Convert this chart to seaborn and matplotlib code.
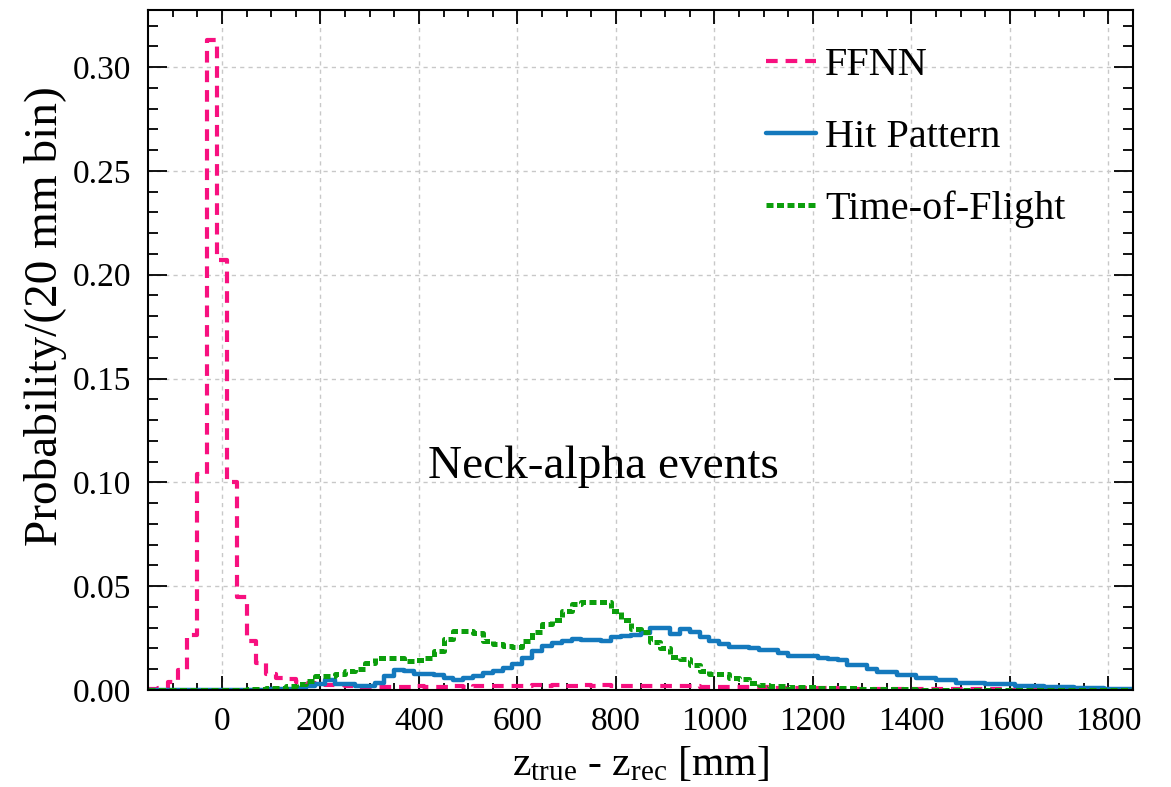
import numpy as np
import pandas as pd
import seaborn as sns
import matplotlib.pyplot as plt
from matplotlib.lines import Line2D
from matplotlib.ticker import MultipleLocator, FormatStrFormatter

# bins of 20 mm, centres from -140 to 1840 mm
bin_centers = np.arange(-140, 1841, 20)

ffnn = [
    0.0007, 0.0008, 0.004, 0.0097, 0.0266, 0.104, 0.313, 0.207, 0.100, 0.045,
    0.0236, 0.0132, 0.0079, 0.0058, 0.0055, 0.004, 0.0035, 0.003, 0.0025, 0.0022,
    0.002, 0.0016, 0.0015, 0.0016, 0.0015, 0.0016, 0.0015, 0.0017, 0.0016, 0.0015,
    0.0016, 0.0017, 0.0016, 0.0018, 0.0017, 0.002, 0.0019, 0.0021, 0.002, 0.0022,
    0.002, 0.0022, 0.0021, 0.002, 0.0022, 0.0021, 0.0022, 0.002, 0.0021, 0.002,
    0.0019, 0.002, 0.0018, 0.0019, 0.0017, 0.0018, 0.0016, 0.0015, 0.0016, 0.0014,
    0.0014, 0.0013, 0.0012, 0.0011, 0.001, 0.001, 0.0009, 0.0009, 0.0008, 0.0008,
    0.0007, 0.0007, 0.0006, 0.0006, 0.0006, 0.0005, 0.0005, 0.0005, 0.0005, 0.0004,
    0.0004, 0.0004, 0.0003, 0.0003, 0.0003, 0.0003, 0.0003, 0.0002, 0.0002, 0.0002,
    0.0002, 0.0002, 0.0002, 0.0002, 0.0001, 0.0001, 0.0001, 0.0001, 0.0001, 0.0001,
]

hit_pattern = [
    0.0, 0.0, 0.0, 0.0, 0.0001, 0.0001, 0.0001, 0.0001, 0.0001, 0.0001,
    0.0001, 0.0002, 0.0003, 0.0004, 0.0006, 0.001, 0.0018, 0.003, 0.005, 0.003,
    0.003, 0.002, 0.002, 0.0035, 0.0068, 0.0097, 0.009, 0.0078, 0.0076, 0.0073,
    0.006, 0.005, 0.006, 0.0068, 0.008, 0.0092, 0.0105, 0.0127, 0.0153, 0.0189,
    0.0213, 0.0224, 0.0237, 0.0245, 0.024, 0.0243, 0.0234, 0.0256, 0.026, 0.0266,
    0.0273, 0.0298, 0.0298, 0.027, 0.0294, 0.0277, 0.0256, 0.0237, 0.022, 0.0208,
    0.0205, 0.0202, 0.0192, 0.0192, 0.018, 0.0165, 0.0165, 0.0165, 0.0156, 0.0148,
    0.0145, 0.0119, 0.0119, 0.01, 0.0087, 0.0087, 0.0071, 0.0071, 0.0056, 0.0056,
    0.0047, 0.0047, 0.0035, 0.0035, 0.0035, 0.0027, 0.0027, 0.0027, 0.0021, 0.0021,
    0.0021, 0.0015, 0.0015, 0.0015, 0.0008, 0.0008, 0.0008, 0.0007, 0.0007, 0.0006,
]

time_of_flight = [
    0.0, 0.0, 0.0, 0.0, 0.0, 0.0, 0.0001, 0.0001, 0.0001, 0.0002,
    0.0005, 0.0006, 0.0008, 0.001, 0.002, 0.0027, 0.0044, 0.0068, 0.0068, 0.0076,
    0.0092, 0.01, 0.0132, 0.0156, 0.0156, 0.0153, 0.014, 0.0143, 0.0156, 0.0189,
    0.0245, 0.0285, 0.0285, 0.0273, 0.0237, 0.022, 0.0213, 0.0208, 0.0237, 0.0277,
    0.032, 0.0337, 0.038, 0.0415, 0.0423, 0.0423, 0.0423, 0.038, 0.0335, 0.0294,
    0.0277, 0.0232, 0.0202, 0.016, 0.0148, 0.0121, 0.0092, 0.0076, 0.0076, 0.0056,
    0.0052, 0.0035, 0.0024, 0.0019, 0.0019, 0.0016, 0.0016, 0.0012, 0.0008, 0.0008,
    0.0008, 0.0008, 0.0006, 0.0004, 0.0003, 0.0003, 0.0003, 0.0003, 0.0002, 0.0002,
    0.0002, 0.0002, 0.0001, 0.0002, 0.0001, 0.0001, 0.0001, 0.0001, 0.0001, 0.0001,
    0.0001, 0.0001, 0.0001, 0.0001, 0.0001, 0.0, 0.0, 0.0, 0.0, 0.0,
]

labels = ["FFNN", "Hit Pattern", "Time-of-Flight"]
colors = ["#f7107f", "#1479bd", "#0c9e0c"]

df = pd.DataFrame({
    "z": bin_centers,
    "FFNN": ffnn,
    "Hit Pattern": hit_pattern,
    "Time-of-Flight": time_of_flight,
})

sns.set_style("ticks")
plt.rcParams["font.family"] = ["Liberation Serif", "DejaVu Serif"]
plt.rcParams["mathtext.fontset"] = "custom"
plt.rcParams["mathtext.rm"] = "Liberation Serif"
plt.rcParams["mathtext.it"] = "Liberation Serif:italic"
plt.rcParams["text.color"] = "black"
plt.rcParams["axes.labelcolor"] = "black"

fig = plt.figure(figsize=(11.71, 7.87), dpi=100)
ax = fig.add_axes([0.1264, 0.1233, 0.8412, 0.864])

# line styles per series
styles = {
    "FFNN": dict(linestyle=(0, (2.8, 1.9)), linewidth=3.0),
    "Hit Pattern": dict(linestyle="-", linewidth=3.2),
    "Time-of-Flight": dict(linestyle=(0, (1.4, 0.7)), linewidth=3.6),
}

for lab, col in zip(labels, colors):
    sns.histplot(data=df, x="z", weights=lab, binwidth=20, binrange=(-150, 1850),
                 element="step", fill=False, color=col, ax=ax, **styles[lab])

ax.set_xlim(-150, 1850)
ax.set_ylim(0, 0.3275)

ax.xaxis.set_major_locator(MultipleLocator(200))
ax.xaxis.set_minor_locator(MultipleLocator(50))
ax.yaxis.set_major_locator(MultipleLocator(0.05))
ax.yaxis.set_minor_locator(MultipleLocator(0.01))
ax.yaxis.set_major_formatter(FormatStrFormatter("%.2f"))

ax.grid(True, which="major", color="#c8c8c8", linestyle=(0, (3, 3)), linewidth=1.0)
ax.set_axisbelow(True)

ax.tick_params(axis="both", which="both", direction="in", top=True, right=True,
               width=1.3, colors="black", labelcolor="black")
ax.tick_params(axis="x", which="major", length=10, pad=12, labelsize=24)
ax.tick_params(axis="x", which="minor", length=5)
ax.tick_params(axis="y", which="major", length=14, pad=12, labelsize=24)
ax.tick_params(axis="y", which="minor", length=7)
for sp in ax.spines.values():
    sp.set_linewidth(1.5)
    sp.set_color("black")

ax.set_xlabel(r"z$_{\mathrm{true}}$ - z$_{\mathrm{rec}}$ [mm]", fontsize=30, labelpad=6)
ax.set_ylabel("Probability/(20 mm bin)", fontsize=34)
ax.yaxis.set_label_coords(-0.082, 0.55)

ax.text(0.462, 0.328, "Neck-alpha events", transform=ax.transAxes,
        ha="center", va="center", fontsize=34)

handles = [Line2D([], [], color=c, **styles[l]) for l, c in zip(labels, colors)]
ax.legend(handles, labels, loc="upper left", bbox_to_anchor=(0.627, 0.946),
          frameon=False, fontsize=29, handlelength=1.25, handletextpad=0.22,
          labelspacing=0.86, borderpad=0, borderaxespad=0)

fig.savefig("out.png", dpi=100, facecolor="white")
